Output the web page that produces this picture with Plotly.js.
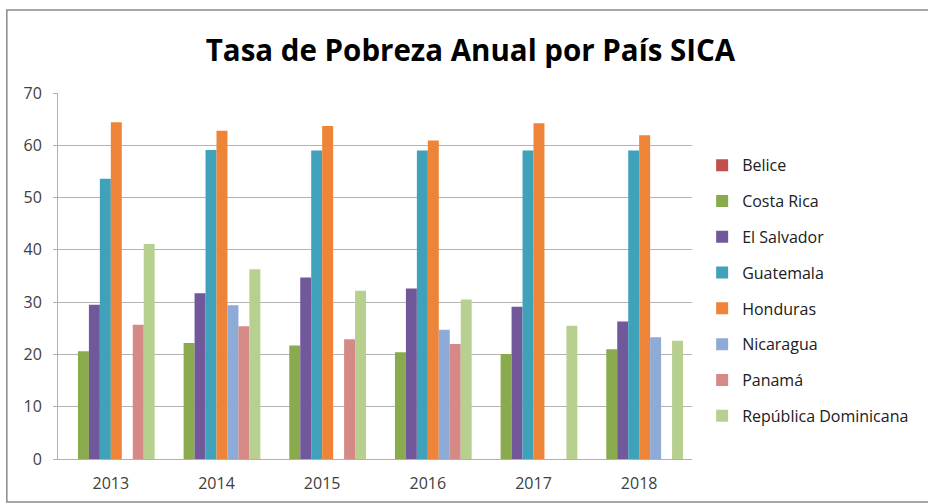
<!DOCTYPE html>
<html>
<head>
<meta charset="utf-8">
<script src="https://cdn.plot.ly/plotly-3.0.1.min.js"></script>
<style>html,body{margin:0;padding:0;background:#fff;}#chart{width:928px;height:504px;}</style>
</head>
<body>
<div id="chart"></div>
<script>
const years = ["2013", "2014", "2015", "2016", "2017", "2018"];
const seriesNames = ["Belice", "Costa Rica", "El Salvador", "Guatemala", "Honduras", "Nicaragua", "Panamá", "República Dominicana"];
const belice = [null, null, null, null, null, null];
const costaRica = [20.6, 22.2, 21.7, 20.4, 20.1, 21.0];
const elSalvador = [29.5, 31.7, 34.7, 32.6, 29.1, 26.3];
const guatemala = [53.6, 59.1, 59.0, 59.0, 59.0, 59.0];
const honduras = [64.4, 62.8, 63.7, 60.9, 64.2, 61.9];
const nicaragua = [null, 29.4, null, 24.7, null, 23.3];
const panama = [25.7, 25.4, 22.9, 22.0, null, null];
const repDominicana = [41.1, 36.3, 32.2, 30.5, 25.5, 22.6];
const seriesValues = [belice, costaRica, elSalvador, guatemala, honduras, nicaragua, panama, repDominicana];
const colors = ["#C0504D", "#8AAA4E", "#71589A", "#3FA2BA", "#EE8437", "#8EAAD6", "#D68A88", "#B8D08F"];

const traces = seriesNames.map((name, i) => ({
  type: "bar",
  name: name,
  x: years,
  y: seriesValues[i],
  legendgroup: "g" + i,
  marker: {color: colors[i], line: {width: 0}},
  hoverinfo: "x+y+name"
}));

const layout = {
  width: 928,
  height: 504,
  margin: {l: 58, r: 236, t: 93, b: 45},
  paper_bgcolor: "#ffffff",
  plot_bgcolor: "#ffffff",
  font: {family: "'Open Sans', sans-serif", color: "#404040", size: 16},
  title: {
    text: "Tasa de Pobreza Anual por País SICA",
    font: {family: "'Open Sans', sans-serif", size: 29.5, color: "#000000", weight: "bold"},
    x: 0.507, xanchor: "center",
    y: 0.9, yanchor: "middle"
  },
  barmode: "group",
  bargap: 0.17,
  bargroupgap: 0,
  xaxis: {
    type: "category",
    showgrid: false,
    showline: true,
    linecolor: "#b0b0b0",
    linewidth: 1,
    ticks: "",
    ticklabelstandoff: 10,
    tickfont: {size: 16, color: "#404040"},
    fixedrange: true
  },
  yaxis: {
    range: [0, 70],
    dtick: 10,
    showgrid: true,
    gridcolor: "#b3b3b3",
    gridwidth: 1,
    zeroline: false,
    showline: true,
    linecolor: "#b0b0b0",
    linewidth: 1,
    ticks: "outside",
    ticklen: 4,
    tickcolor: "#b0b0b0",
    ticklabelstandoff: 8,
    tickfont: {size: 16, color: "#404040"},
    fixedrange: true
  },
  legend: {
    x: 1.016, xanchor: "left",
    y: 0.849, yanchor: "top",
    tracegroupgap: 12,
    font: {size: 16, color: "#202020"},
    bgcolor: "rgba(0,0,0,0)"
  },
  shapes: [{
    type: "rect", xref: "paper", yref: "paper",
    x0: -0.0807, x1: 1.4, y0: -0.1175, y1: 1.2268,
    line: {color: "#8a8a8a", width: 1.5},
    fillcolor: "rgba(0,0,0,0)",
    layer: "below"
  }]
};

Plotly.newPlot("chart", traces, layout, {displayModeBar: false, staticPlot: true});
</script>
</body>
</html>
